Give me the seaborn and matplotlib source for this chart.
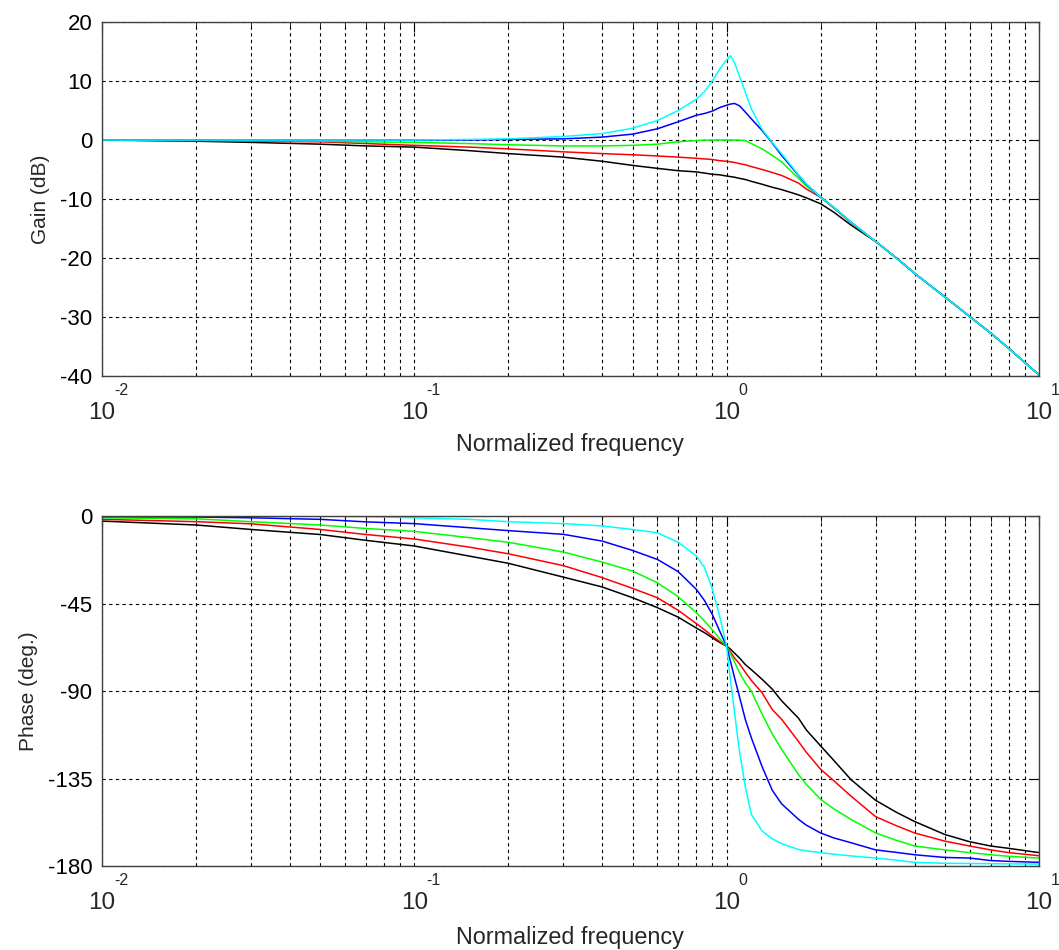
import numpy as np
import pandas as pd
import seaborn as sns
import matplotlib
matplotlib.use("Agg")
import matplotlib.pyplot as plt
from matplotlib.ticker import LogLocator, FixedLocator

# ---------------------------------------------------------------
# Data (normalized frequency, gain, phase)
# ---------------------------------------------------------------
freq = [0.01, 0.02, 0.03, 0.05, 0.07, 0.1, 0.15, 0.2, 0.3, 0.4, 0.5, 0.6,
        0.7, 0.8, 0.85, 0.9, 0.95, 1.0, 1.03, 1.06, 1.1, 1.15, 1.2, 1.3,
        1.4, 1.5, 1.7, 1.8, 2.0, 2.2, 2.5, 3.0, 3.5, 4.0, 5.0, 6.0, 7.0, 8.0, 10.0]

gain_black = [0, -0.2, -0.4, -0.7, -1.0, -1.2, -1.8, -2.3, -2.9, -3.6, -4.3, -4.8,
              -5.2, -5.4, -5.6, -5.8, -5.9, -6.1, -6.2, -6.3, -6.5, -6.7, -7.0, -7.5,
              -8.0, -8.4, -9.3, -9.8, -10.8, -12.2, -14.4, -17.2, -20.0, -22.6, -26.6, -29.9, -32.7, -35.3, -39.8]
gain_red = [0, -0.1, -0.2, -0.3, -0.6, -0.9, -1.2, -1.5, -2.0, -2.3, -2.5, -2.7,
            -2.9, -3.1, -3.2, -3.3, -3.5, -3.6, -3.7, -3.8, -4.0, -4.2, -4.5, -5.0,
            -5.5, -6.0, -7.3, -8.3, -9.7, -11.5, -14.0, -17.2, -20.0, -22.6, -26.6, -29.9, -32.7, -35.3, -39.8]
gain_green = [0, 0, -0.1, -0.2, -0.3, -0.4, -0.6, -0.8, -1.0, -1.0, -0.9, -0.7,
              -0.3, -0.1, 0, 0, 0, 0, 0, 0, 0, -0.1, -0.6, -1.5,
              -2.6, -3.7, -6.5, -7.8, -9.6, -11.4, -13.9, -17.2, -20.0, -22.6, -26.6, -29.9, -32.7, -35.3, -39.8]
gain_blue = [0, 0, 0, 0, 0, 0, 0, 0.1, 0.2, 0.5, 1.0, 1.9,
             3.1, 4.2, 4.5, 4.9, 5.5, 5.9, 6.1, 6.2, 5.8, 4.7, 3.6, 1.6,
             -0.5, -2.6, -6.0, -7.5, -9.7, -11.4, -13.9, -17.2, -20.0, -22.6, -26.6, -29.9, -32.7, -35.3, -39.8]
gain_cyan = [0, 0, 0, 0, 0, 0, 0.1, 0.2, 0.6, 1.1, 2.0, 3.3,
             5.0, 6.9, 8.2, 10.0, 12.0, 13.6, 14.3, 13.1, 10.8, 8.0, 5.3, 1.8,
             -0.4, -2.3, -5.9, -7.4, -9.7, -11.4, -13.9, -17.2, -20.0, -22.6, -26.6, -29.9, -32.7, -35.3, -39.8]

phase_black = [-2.6, -4.6, -6.9, -9.5, -12.5, -15.4, -20.6, -24.3, -31.4, -36.5, -42.0, -47.1,
               -52.0, -57.6, -60.0, -62.6, -65.0, -66.9, -68.5, -70.5, -73.0, -76.5, -79.0, -84.0,
               -89.0, -95.0, -104.0, -110.0, -118.2, -125.5, -135.5, -146.2, -152.4, -157.1, -163.8, -167.5, -169.7, -170.9, -173.1]
phase_red = [-1.7, -2.9, -4.0, -6.9, -9.5, -11.8, -16.0, -19.4, -25.5, -31.7, -37.2, -42.0,
             -48.5, -55.3, -58.5, -61.7, -64.5, -66.9, -70.0, -73.0, -76.0, -80.5, -84.5, -91.0,
             -99.5, -104.5, -116.0, -121.5, -130.2, -136.0, -144.0, -154.6, -159.3, -163.0, -167.2, -169.7, -171.7, -173.1, -174.7]
phase_green = [-0.9, -1.4, -2.9, -4.6, -6.4, -7.9, -11.1, -13.5, -18.5, -23.7, -28.3, -34.3,
               -41.5, -49.7, -54.0, -58.5, -63.0, -66.9, -71.0, -75.0, -80.5, -86.0, -90.0, -102.0,
               -112.0, -120.0, -133.0, -138.0, -145.7, -150.5, -156.0, -163.0, -166.8, -169.7, -171.7, -173.1, -174.2, -175.0, -175.9]
phase_blue = [-0.3, -0.5, -0.9, -1.7, -3.0, -3.9, -6.0, -7.5, -9.4, -12.9, -17.7, -22.3,
              -28.6, -37.7, -43.5, -50.6, -59.1, -66.9, -75.0, -83.0, -93.0, -105.0, -114.0, -129.0,
              -141.0, -148.0, -156.0, -159.0, -163.0, -165.5, -168.0, -171.7, -173.0, -174.2, -175.6, -175.9, -177.2, -177.6, -178.1]
phase_cyan = [0, 0, 0, 0, -0.3, -0.9, -1.7, -2.9, -3.9, -5.1, -6.9, -8.6,
              -13.5, -20.6, -26.5, -37.5, -51.5, -66.9, -85.0, -101.0, -121.0, -140.0, -153.4, -162.0,
              -166.0, -168.5, -171.5, -172.2, -173.1, -173.9, -174.8, -175.9, -177.0, -178.1, -178.6, -178.7, -178.8, -178.9, -179.0]

curve_names = ["black", "red", "green", "blue", "cyan"]
curve_colors = {"black": "#000000", "red": "#FF0000", "green": "#00FF00",
                "blue": "#0000FF", "cyan": "#00FFFF"}

# x tick labels: mantissa "10" with the exponent written above it
xtick_vals = [0.01, 0.1, 1, 10]
xtick_exps = ["-2", "-1", "0", "1"]

gains = [gain_black, gain_red, gain_green, gain_blue, gain_cyan]
phases = [phase_black, phase_red, phase_green, phase_blue, phase_cyan]

filas = []
for nombre, g, p in zip(curve_names, gains, phases):
    for f, gv, pv in zip(freq, g, p):
        filas.append({"freq": f, "gain": gv, "phase": pv, "curve": nombre})
df = pd.DataFrame(filas)

# ---------------------------------------------------------------
# Figure
# ---------------------------------------------------------------
sns.set_style("white")
plt.rcParams["font.family"] = ["Liberation Sans", "DejaVu Sans"]
plt.rcParams["axes.unicode_minus"] = False

fig = plt.figure(figsize=(10.59, 9.5), dpi=100)
ax1 = fig.add_axes([0.0963, 0.6042, 0.8847, 0.3726])
ax2 = fig.add_axes([0.0963, 0.0884, 0.8847, 0.3684])

sns.lineplot(data=df, x="freq", y="gain", hue="curve", hue_order=curve_names,
             palette=curve_colors, estimator=None, sort=False, legend=False,
             linewidth=1.1, ax=ax1)
sns.lineplot(data=df, x="freq", y="phase", hue="curve", hue_order=curve_names,
             palette=curve_colors, estimator=None, sort=False, legend=False,
             linewidth=1.1, ax=ax2)

for ax, ylab_y in ((ax1, -0.162), (ax2, -0.172)):
    ax.set_xscale("log")
    ax.set_xlim(0.01, 10)
    ax.xaxis.set_major_locator(FixedLocator(xtick_vals))
    ax.xaxis.set_minor_locator(LogLocator(base=10, subs=np.arange(2, 10)))
    ax.grid(True, which="both", axis="x", color="black",
            linestyle=(0, (3, 3)), linewidth=0.8)
    ax.grid(True, which="major", axis="y", color="black",
            linestyle=(0, (3, 3)), linewidth=0.8)
    ax.tick_params(which="both", direction="in", top=True, right=True,
                   labelsize=16, colors="black", labelbottom=False)
    ax.tick_params(which="major", length=7, width=0.8, pad=7)
    ax.tick_params(which="minor", length=4, width=0.6)
    for sp in ax.spines.values():
        sp.set_color("#404040")
        sp.set_linewidth(1.0)

    # "10" centrado en el tick + exponente arriba a la derecha (estilo MATLAB)
    for t, e in zip(xtick_vals, xtick_exps):
        ax.annotate("10", xy=(t, 0), xycoords=ax.get_xaxis_transform(),
                    xytext=(0, -18.5), textcoords="offset points",
                    ha="center", va="top", fontsize=17.5, annotation_clip=False)
        ax.annotate(e, xy=(t, 0), xycoords=ax.get_xaxis_transform(),
                    xytext=(8.5, -16), textcoords="offset points",
                    ha="left", va="bottom", fontsize=11.5, annotation_clip=False)

    ax.set_xlabel("Normalized frequency", fontsize=16.8)
    ax.xaxis.set_label_coords(0.5, ylab_y)
    ax.xaxis.label.set_va("top")

ax1.set_ylim(-40, 20)
ax1.set_yticks([-40, -30, -20, -10, 0, 10, 20])
ax1.set_ylabel("Gain (dB)", fontsize=15, labelpad=7)

ax2.set_ylim(-180, 0)
ax2.set_yticks([-180, -135, -90, -45, 0])
ax2.set_ylabel("Phase (deg.)", fontsize=15, labelpad=7)

plt.savefig("out.png", dpi=100)
plt.close()
